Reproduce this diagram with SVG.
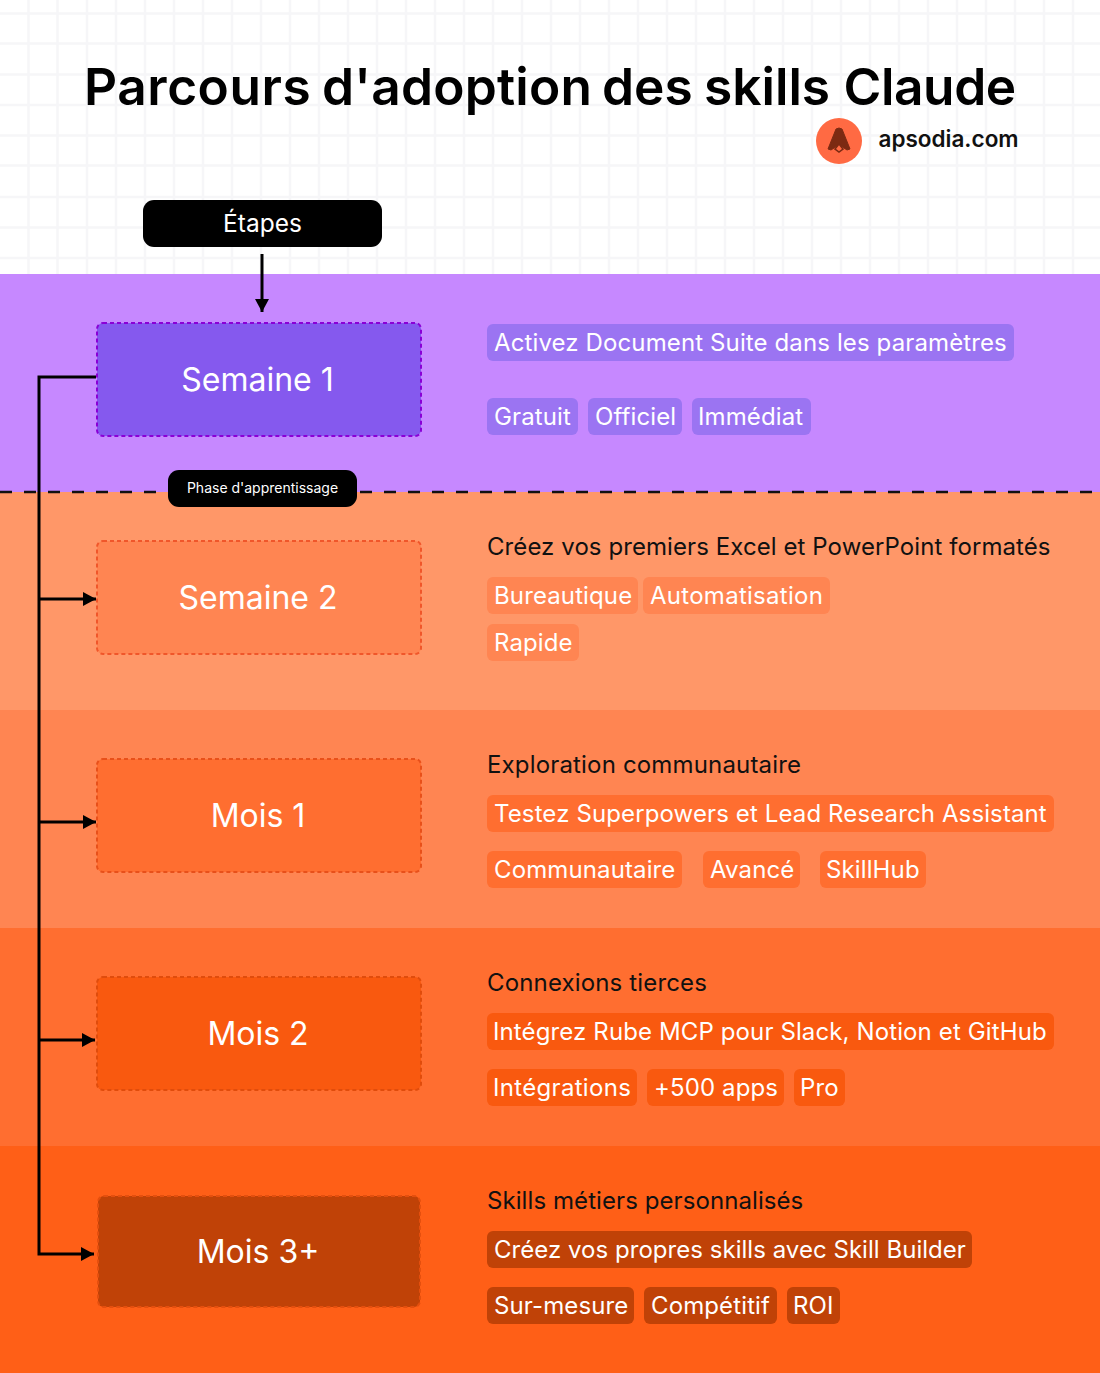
<svg xmlns="http://www.w3.org/2000/svg" width="1100" height="1373" viewBox="0 0 1100 1373">
<style>
text{font-family:Inter,"Liberation Sans",sans-serif}
.box{stroke-width:2;stroke-dasharray:4 3}
.bl{font-size:32px;fill:#fff;text-anchor:middle}
.tag{font-size:24px;fill:#fff;letter-spacing:.12px}
.head{font-size:24px;fill:#111;letter-spacing:.08px}
.conn{fill:none;stroke:#000;stroke-width:3}
.grid{stroke:#f6f6f8;stroke-width:2.500;fill:none}
</style>
<defs>
<marker id="ah" markerUnits="userSpaceOnUse" markerWidth="14" markerHeight="14" refX="13" refY="7" orient="auto"><path d="M0 0L13 7L0 14Z" fill="#000"/></marker>
</defs>
<rect width="1100" height="1373" fill="#fff"/>
<path class="grid" d="M28.500 0V274M57.500 0V274M87 0V274M116 0V274M145 0V274M174 0V274M203 0V274M232 0V274M261 0V274M290 0V274M319 0V274M348 0V274M377 0V274M406 0V274M435 0V274M464 0V274M493 0V274M522 0V274M551 0V274M580 0V274M609 0V274M638 0V274M667 0V274M696 0V274M725 0V274M754 0V274M783 0V274M812 0V274M841 0V274M870 0V274M899 0V274M928 0V274M957 0V274M986 0V274M1015 0V274M1044 0V274M1073 0V274M0 13.500H1100M0 43.500H1100M0 74.500H1100M0 105H1100M0 135.500H1100M0 165.500H1100M0 197H1100M0 227.500H1100M0 258H1100"/>
<g id="bands">
<rect y="274" width="1100" height="218" fill="#c688ff"/>
<rect y="492" width="1100" height="218" fill="#ff9768"/>
<rect y="710" width="1100" height="218" fill="#ff8552"/>
<rect y="928" width="1100" height="218" fill="#ff6e30"/>
<rect y="1146" width="1100" height="227" fill="#ff5f17"/>
</g>
<text y="104.500" font-size="51.400" font-weight="640" fill="#000"><tspan x="84" letter-spacing=".55">Parcours</tspan> <tspan x="322" letter-spacing=".2">d'adoption</tspan> <tspan x="602">des</tspan> <tspan x="704">skills</tspan> <tspan x="843.500" letter-spacing="-.4">Claude</tspan></text>
<g id="logo">
<circle cx="839" cy="141" r="23" fill="#ff6a43"/>
<path d="M839 128L842 129L850 149L847 150L841 146L839 148L837 146L831 150L828 149L836 129Z" fill="#7c2a12" stroke="#7c2a12" stroke-linejoin="round"/>
<path d="M839 144L843 149L839 152L835 149Z" fill="#ff6a43" stroke="#7c2a12" stroke-width="1.500"/>
<text x="878.500" y="147" font-size="22.500" font-weight="600" fill="#111">apsodia.com</text>
</g>
<g id="connectors">
<path class="conn" d="M96 377H39V1254H94" marker-end="url(#ah)"/>
<path class="conn" d="M39 599H96" marker-end="url(#ah)"/>
<path class="conn" d="M39 822H96" marker-end="url(#ah)"/>
<path class="conn" d="M39 1040H95" marker-end="url(#ah)"/>
<path class="conn" stroke-width="2" d="M262 254V312" marker-end="url(#ah)"/>
<path d="M0 492H1100" fill="none" stroke="#111" stroke-width="2.500" stroke-dasharray="12 12"/>
</g>
<g id="etapes"><rect x="143" y="200" width="239" height="47" rx="11" fill="#000"/><text x="262.500" y="232" font-size="24.500" fill="#fff" text-anchor="middle">Étapes</text></g>
<g id="phase"><rect x="168" y="470" width="189" height="37" rx="11" fill="#000"/><text x="262.500" y="493" font-size="14" fill="#fff" text-anchor="middle">Phase d'apprentissage</text></g>
<g id="s1"><rect class="box" x="97" y="323" width="324" height="113" rx="6" fill="#8559ee" stroke="#8a00d6"/><text class="bl" x="257.500" y="391">Semaine 1</text></g>
<g id="s2"><rect class="box" x="97" y="541" width="324" height="113" rx="6" fill="#ff8552" stroke="#f0562a"/><text class="bl" x="258" y="609">Semaine 2</text></g>
<g id="m1"><rect class="box" x="97" y="759" width="324" height="113" rx="6" fill="#ff6e30" stroke="#e8501a"/><text class="bl" x="258" y="827">Mois 1</text></g>
<g id="m2"><rect class="box" x="97" y="977" width="324" height="113" rx="6" fill="#f9590f" stroke="#e04c0c"/><text class="bl" x="258" y="1045">Mois 2</text></g>
<g id="m3"><rect class="box" x="98" y="1196" width="322" height="111" rx="6" fill="#c04207" stroke="#e54f0e"/><text class="bl" x="258" y="1263">Mois 3+</text></g>
<g id="c1" fill="#9b74f2">
<rect x="487" y="324" width="527" height="37" rx="6"/><rect x="487" y="398" width="91" height="37" rx="6"/><rect x="588" y="398" width="94" height="37" rx="6"/><rect x="692" y="398" width="119" height="37" rx="6"/>
<text class="tag" x="494" y="351">Activez Document Suite dans les paramètres</text><text class="tag" x="494" y="425">Gratuit</text><text class="tag" x="595" y="425">Officiel</text><text class="tag" x="698" y="425">Immédiat</text>
</g>
<g id="c2" fill="#ff8552">
<text class="head" x="487" y="555">Créez vos premiers Excel et PowerPoint formatés</text>
<rect x="487" y="577" width="151" height="37" rx="6"/><rect x="643" y="577" width="187" height="37" rx="6"/><rect x="487" y="624" width="92" height="37" rx="6"/>
<text class="tag" x="494" y="604">Bureautique</text><text class="tag" x="650" y="604" textLength="173">Automatisation</text><text class="tag" x="494" y="651">Rapide</text>
</g>
<g id="c3" fill="#ff6e30">
<text class="head" x="487" y="773" textLength="314">Exploration communautaire</text>
<rect x="487" y="795" width="567" height="37" rx="6"/><rect x="487" y="851" width="195" height="37" rx="6"/><rect x="703" y="851" width="97" height="37" rx="6"/><rect x="820" y="851" width="106" height="37" rx="6"/>
<text class="tag" x="494" y="822">Testez Superpowers et Lead Research Assistant</text><text class="tag" x="494" y="878">Communautaire</text><text class="tag" x="710" y="878">Avancé</text><text class="tag" x="826" y="878">SkillHub</text>
</g>
<g id="c4" fill="#f9590f">
<text class="head" x="487" y="991" textLength="220">Connexions tierces</text>
<rect x="487" y="1013" width="567" height="37" rx="6"/><rect x="487" y="1069" width="150" height="37" rx="6"/><rect x="647" y="1069" width="137" height="37" rx="6"/><rect x="794" y="1069" width="51" height="37" rx="6"/>
<text class="tag" x="493" y="1040">Intégrez Rube MCP pour Slack, Notion et GitHub</text><text class="tag" x="493" y="1096" textLength="138">Intégrations</text><text class="tag" x="654" y="1096">+500 apps</text><text class="tag" x="800" y="1096">Pro</text>
</g>
<g id="c5" fill="#c04207">
<text class="head" x="487" y="1209">Skills métiers personnalisés</text>
<rect x="487" y="1231" width="485" height="37" rx="6"/><rect x="487" y="1287" width="147" height="37" rx="6"/><rect x="644" y="1287" width="133" height="37" rx="6"/><rect x="787" y="1287" width="53" height="37" rx="6"/>
<text class="tag" x="494" y="1258" textLength="472">Créez vos propres skills avec Skill Builder</text><text class="tag" x="494" y="1314">Sur-mesure</text><text class="tag" x="651" y="1314">Compétitif</text><text class="tag" x="793" y="1314">ROI</text>
</g>
</svg>
